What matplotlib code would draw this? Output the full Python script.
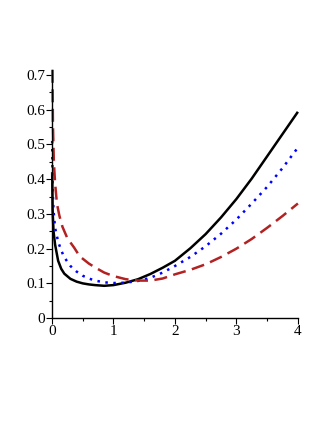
import matplotlib
matplotlib.use("Agg")
import matplotlib.pyplot as plt
from matplotlib.ticker import MultipleLocator

# ── values ────────────────────────────────────────────────────────────────
x_black = [0.003, 0.01, 0.025, 0.05, 0.1, 0.15, 0.2, 0.3, 0.4, 0.5, 0.6, 0.7, 0.85,
           1.0, 1.2, 1.4, 1.6, 1.8, 2.0, 2.25, 2.5, 2.75, 3.0, 3.25, 3.5, 3.75, 4.0]
y_black = [0.42, 0.31, 0.25, 0.212, 0.165, 0.142, 0.128, 0.113, 0.105, 0.100, 0.097, 0.095, 0.093,
           0.095, 0.102, 0.112, 0.127, 0.145, 0.165, 0.201, 0.242, 0.290, 0.343, 0.402, 0.466, 0.530, 0.594]

x_blue = [0.003, 0.01, 0.025, 0.05, 0.1, 0.15, 0.2, 0.3, 0.4, 0.5, 0.6, 0.7, 0.85,
          1.0, 1.2, 1.4, 1.6, 1.8, 2.0, 2.25, 2.5, 2.75, 3.0, 3.25, 3.5, 3.75, 4.0]
y_blue = [0.51, 0.37, 0.31, 0.26, 0.22, 0.195, 0.175, 0.150, 0.134, 0.122, 0.114, 0.108, 0.103,
          0.101, 0.102, 0.107, 0.116, 0.131, 0.150, 0.176, 0.207, 0.243, 0.284, 0.330, 0.378, 0.432, 0.491]

x_red = [0.008, 0.015, 0.03, 0.05, 0.08, 0.12, 0.17, 0.25, 0.36, 0.45, 0.6, 0.7, 0.85,
         1.0, 1.2, 1.4, 1.6, 1.8, 2.0, 2.25, 2.5, 2.75, 3.0, 3.25, 3.5, 3.75, 4.0]
y_red = [0.715, 0.56, 0.45, 0.39, 0.33, 0.295, 0.263, 0.23, 0.203, 0.178, 0.157, 0.146, 0.131,
         0.121, 0.112, 0.108, 0.108, 0.114, 0.126, 0.139, 0.155, 0.176, 0.200, 0.228, 0.260, 0.294, 0.330]

x_ticks = [0, 1, 2, 3, 4]
y_ticks = [0, 0.1, 0.2, 0.3, 0.4, 0.5, 0.6, 0.7]

plt.rcParams['font.family'] = ['Liberation Serif', 'DejaVu Serif']

fig = plt.figure(figsize=(3.27, 4.23), dpi=100)
ax = fig.add_axes([0.159, 0.248, 0.752, 0.587])

ax.plot(x_black, y_black, color="black", lw=1.8, solid_capstyle="butt", clip_on=False)
ax.plot(x_blue, y_blue, color="#0000ff", lw=1.8, linestyle=(0, (1, 2.2)), clip_on=False)
ax.plot(x_red, y_red, color="#b22222", lw=1.8, linestyle=(0, (5.2, 2.6)), clip_on=False)

ax.set_xlim(0, 4)
ax.set_ylim(0, 0.715)
ax.set_xticks(x_ticks)
ax.set_xticklabels([str(t) for t in x_ticks])
ax.set_yticks(y_ticks)
ax.set_yticklabels(["0"] + [f"{t:.1f}" for t in y_ticks[1:]])
ax.xaxis.set_minor_locator(MultipleLocator(0.5))
ax.yaxis.set_minor_locator(MultipleLocator(0.05))

for side in ("top", "right"):
    ax.spines[side].set_visible(False)
for side in ("left", "bottom"):
    ax.spines[side].set_linewidth(1.0)

ax.tick_params(which="major", direction="out", length=4, width=0.8, labelsize=11, pad=1)
ax.tick_params(which="minor", direction="out", length=2.5, width=0.8)

fig.savefig("out.png", dpi=100)
